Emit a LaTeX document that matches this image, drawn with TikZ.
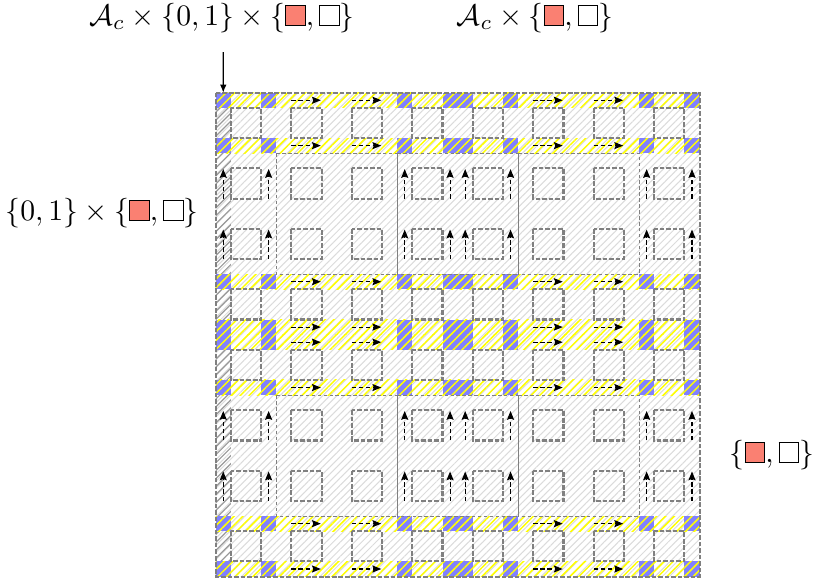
\documentclass[tikz,border=0pt]{standalone}
\usepackage{xcolor}
\usetikzlibrary{patterns.meta,arrows.meta}
\definecolor{sal}{RGB}{250,128,114}
\definecolor{bl}{RGB}{128,128,255}
\setlength\fboxsep{0pt}
\setlength\fboxrule{0.4pt}
\newcommand{\rsq}{\mbox{\raisebox{0.3pt}{\fcolorbox{black}{sal}{\rule{0pt}{6.2pt}\rule{6.2pt}{0pt}}}}}
\newcommand{\wsq}{\mbox{\raisebox{0.3pt}{\fcolorbox{black}{white}{\rule{0pt}{6.2pt}\rule{6.2pt}{0pt}}}}}
\tikzset{
  sqbox/.style={draw=gray, line width=0.7pt, dash pattern=on 1.6pt off 0.6pt},
  blkbox/.style={draw=gray, line width=0.3pt, dash pattern=on 1.2pt off 0.8pt},
  outerbox/.style={draw=gray, line width=0.7pt, dash pattern=on 1.6pt off 0.6pt},
  darr/.style={black, line width=0.35pt, dash pattern=on 1.5pt off 0.9pt, -{Stealth[length=3pt,width=2.4pt,inset=0.5pt]}},
  lbl/.style={inner sep=0pt}
}
\begin{document}
\begin{tikzpicture}[x=0.3373pt,y=-0.3373pt]
\useasboundingbox (0,0) rectangle (815,583);
\node[lbl] (lt) at (222,18) {$\mathcal{A}_c\times\{0,1\}\times\{\rsq,\wsq\}$};
\node[lbl] (ltr) at (535,18) {$\mathcal{A}_c\times\{\rsq,\wsq\}$};
\node[lbl] (ll) at (102,213) {$\{0,1\}\times\{\rsq,\wsq\}$};
\node[lbl] (rr) at (772,455) {$\{\rsq,\wsq\}$};
\coordinate (astart) at (223.3,52);
\begin{scope}[shift={(215.7,92.7)}, x=5.1pt, y=-5.1pt]
  \fill[pattern={Lines[angle=45,distance=1.7pt,line width=0.35pt]}, pattern color=black!14] (0,0) rectangle (32,32);
  \fill[pattern={Lines[angle=45,distance=1.9pt,line width=0.4pt]}, pattern color=black!40] (0,0) rectangle (1,32);
  \foreach \r in {0,3,12,15,16,19,28,31}{
    \foreach \c in {0,3,12,15,16,19,28,31}{
      \fill[bl] (\c,\r) rectangle ++(1,1);
    }
    \fill[pattern={Lines[angle=45,distance=2.1pt,line width=0.5pt]}, pattern color=yellow] (0,\r) rectangle (32,\r+1);
  }
  \foreach \c in {1,5,9,13,17,21,25,29}{
    \foreach \r in {1,5,9,13,17,21,25,29}{
      \draw[sqbox] (\c,\r) rectangle ++(2,2);
    }
  }
  \foreach \c in {4,12,20}{
    \foreach \r in {4,20}{
      \draw[blkbox] (\c,\r) rectangle ++(8,8);
    }
  }
  \foreach \r in {0,3,12,15,16,19,28,31}{
    \foreach \c in {5,9,21,25}{
      \draw[darr] (\c,\r+0.5) -- (\c+1.95,\r+0.5);
    }
  }
  \foreach \c in {0,3,12,15,16,19,28,31}{
    \foreach \r in {5,9,21,25}{
      \draw[darr] (\c+0.5,\r+2) -- (\c+0.5,\r+0.05);
    }
  }
  \draw[outerbox] (0,0) rectangle (32,32);
  \coordinate (aend) at (0.5,0);
\end{scope}
\draw[line width=0.4pt, -{Latex[length=2.7pt,width=2.2pt]}] (astart) -- (aend);
\end{tikzpicture}
\end{document}
